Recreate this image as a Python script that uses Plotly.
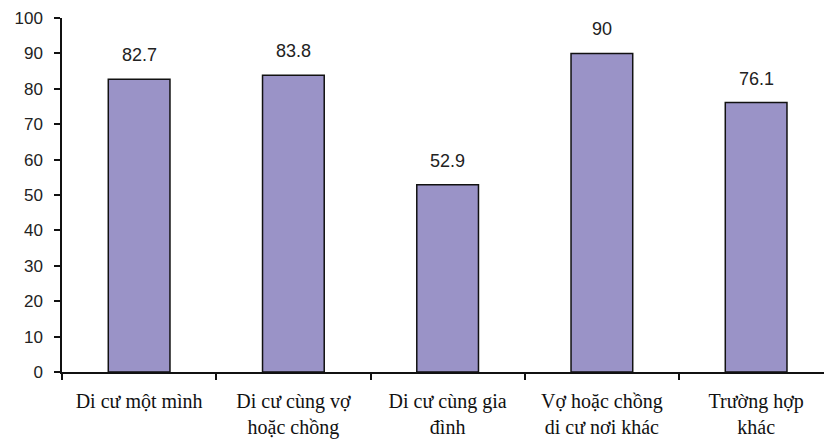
import plotly.graph_objects as go

# Share of respondents (%) by migration situation
categories = [
    "Di cư một mình",
    "Di cư cùng vợ<br>hoặc chồng",
    "Di cư cùng gia<br>đình",
    "Vợ hoặc chồng<br>di cư nơi khác",
    "Trường hợp<br>khác",
]
values = [82.7, 83.8, 52.9, 90, 76.1]
value_labels = ["82.7", "83.8", "52.9", "90", "76.1"]
y_ticks = list(range(0, 101, 10))

fig = go.Figure(
    go.Bar(
        x=categories,
        y=values,
        width=0.4,
        marker=dict(color="#9A93C7", line=dict(color="#111111", width=1.5)),
        hoverinfo="x+y",
    )
)

for cat, val, lab in zip(categories, values, value_labels):
    fig.add_annotation(
        x=cat, y=val, text=lab, showarrow=False, yshift=24,
        font=dict(family="Liberation Sans, Arial", size=18, color="#222222"),
    )

fig.update_layout(
    width=824, height=443,
    margin=dict(l=62, r=0, t=18, b=71),
    paper_bgcolor="white", plot_bgcolor="white",
    showlegend=False,
)
fig.update_xaxes(
    type="category",
    range=[-0.5, 4.44],
    tickson="boundaries",
    ticks="outside", ticklen=6, tickwidth=1.5, tickcolor="#111111",
    showline=True, linecolor="#111111", linewidth=1.5,
    tickfont=dict(family="Liberation Serif, Times New Roman", size=20, color="#111111"),
    ticklabelstandoff=10,
    showgrid=False,
)
fig.update_yaxes(
    range=[0, 100],
    tickvals=y_ticks,
    ticks="outside", ticklen=6, tickwidth=1.5, tickcolor="#111111",
    showline=True, linecolor="#111111", linewidth=1.5,
    tickfont=dict(family="Liberation Sans, Arial", size=17, color="#222222"),
    ticklabelstandoff=8,
    showgrid=False, zeroline=False,
)

fig.write_html("out.html")
